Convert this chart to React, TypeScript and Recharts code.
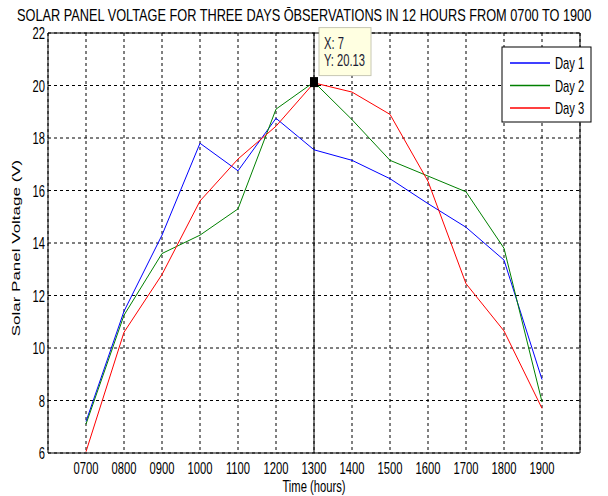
import React from "react";
import {
  LineChart,
  Line,
  XAxis,
  YAxis,
  CartesianGrid,
  ReferenceLine,
  ReferenceDot,
  ReferenceArea,
} from "recharts";

const hours = [7, 8, 9, 10, 11, 12, 13, 14, 15, 16, 17, 18, 19];
const hourLabels = ["0700", "0800", "0900", "1000", "1100", "1200", "1300", "1400", "1500", "1600", "1700", "1800", "1900"];
const day1 = [7.2, 11.4, 14.3, 17.8, 16.75, 18.75, 17.55, 17.15, 16.45, 15.5, 14.6, 13.35, 8.8];
const day2 = [7.1, 11.25, 13.6, 14.3, 15.3, 19.1, 20.13, 18.7, 17.15, 16.55, 15.95, 13.8, 7.95];
const day3 = [6.05, 10.6, 12.8, 15.6, 17.2, 18.45, 20.1, 19.75, 18.9, 16.35, 12.45, 10.65, 7.7];
const yTicks = [6, 8, 10, 12, 14, 16, 18, 20, 22];
const seriesNames = ["Day 1", "Day 2", "Day 3"];
const seriesColors = ["#0000ff", "#008000", "#ff0000"];
const tipX = 13;
const tipIndex = 7;
const tipY = 20.13;
const title = "SOLAR PANEL VOLTAGE FOR THREE DAYS \u014cBSERVATIONS IN 12 HOURS FROM 0700 TO 1900";

const data = hours.map((h, i) => ({ hour: h, d1: day1[i], d2: day2[i], d3: day3[i] }));
const seriesKeys = ["d1", "d2", "d3"];

const FONT = '"Liberation Sans", Arial, sans-serif';
const SX = 0.66;

const XTick = (props: any) => {
  const { x, y, payload } = props;
  const idx = hours.indexOf(payload.value);
  return (
    <g transform={`translate(${x},${y + 21})`}>
      <text x={0} y={0} textAnchor="middle" fontSize={17} fontFamily={FONT} fill="#000" transform={`scale(${SX},1)`}>
        {idx >= 0 ? hourLabels[idx] : ""}
      </text>
    </g>
  );
};

const YTick = (props: any) => {
  const { x, y, payload } = props;
  return (
    <g transform={`translate(${x},${y + 6})`}>
      <text x={0} y={0} textAnchor="end" fontSize={17} fontFamily={FONT} fill="#000" transform={`scale(${SX},1)`}>
        {payload.value}
      </text>
    </g>
  );
};

const TipShape = (props: any) => {
  const { cx, cy } = props;
  return (
    <g>
      <rect x={cx + 5} y={cy - 54.5} width={52} height={48} fill="#ffffe1" stroke="#c8c8b4" strokeWidth={1} />
      <g transform={`translate(${cx + 10},${cy - 33.5})`}>
        <text x={0} y={0} fontSize={16} fontFamily={FONT} fill="#1a1a33" transform={`scale(${SX + 0.04},1)`}>
          {`X: ${tipIndex}`}
        </text>
      </g>
      <g transform={`translate(${cx + 10},${cy - 16.5})`}>
        <text x={0} y={0} fontSize={16} fontFamily={FONT} fill="#1a1a33" transform={`scale(${SX + 0.04},1)`}>
          {`Y: ${tipY}`}
        </text>
      </g>
      <rect x={cx - 4} y={cy - 5} width={8} height={10} fill="#000" />
    </g>
  );
};

export default function App() {
  return (
    <div style={{ position: "absolute", left: 0, top: 0, width: 608, height: 496, background: "#fff" }}>
      <LineChart
        width={608}
        height={496}
        data={data}
        margin={{ top: 33, right: 28, bottom: 0, left: 0 }}
      >
        <CartesianGrid stroke="#000" strokeDasharray="3 3" strokeWidth={1} />
        <XAxis
          dataKey="hour"
          type="number"
          domain={[6, 20]}
          ticks={hours}
          interval={0}
          height={43}
          tickSize={0}
          tickMargin={0}
          axisLine={false}
          tickLine={false}
          tick={<XTick />}
        />
        <YAxis
          type="number"
          domain={[6, 22]}
          ticks={yTicks}
          interval={0}
          width={48}
          tickSize={0}
          tickMargin={3}
          axisLine={false}
          tickLine={false}
          tick={<YTick />}
        />
        <ReferenceArea x1={6} x2={20} y1={6} y2={22} fill="none" stroke="#000" strokeWidth={1} ifOverflow="visible" />
        <ReferenceLine x={tipX} stroke="#000" strokeWidth={1} />
        {seriesKeys.map((k, i) => (
          <Line
            key={k}
            type="linear"
            dataKey={k}
            name={seriesNames[i]}
            stroke={seriesColors[i]}
            strokeWidth={1}
            dot={false}
            activeDot={false}
            isAnimationActive={false}
          />
        ))}
        <ReferenceDot x={tipX} y={tipY} r={5} shape={<TipShape />} ifOverflow="visible" />
      </LineChart>
      <svg width={608} height={496} style={{ position: "absolute", left: 0, top: 0, pointerEvents: "none" }}>
        <g transform={`translate(17,21) scale(0.75,1)`}>
          <text x={0} y={0} fontSize={17} fontFamily={FONT} fill="#000">
            {title}
          </text>
        </g>
        <g transform={`translate(314,492)`}>
          <text x={0} y={0} textAnchor="middle" fontSize={17} fontFamily={FONT} fill="#000" transform={`scale(${SX},1)`}>
            Time (hours)
          </text>
        </g>
        <g transform={`translate(20,248) scale(${SX},1) rotate(-90)`}>
          <text x={0} y={0} textAnchor="middle" fontSize={17} fontFamily={FONT} fill="#000">
            Solar Panel Voltage (V)
          </text>
        </g>
        <rect x={502} y={47} width={89} height={75} fill="#fff" stroke="#000" strokeWidth={1} />
        {seriesNames.map((n, i) => (
          <g key={n}>
            <line x1={510} x2={550} y1={63 + i * 22.5} y2={63 + i * 22.5} stroke={seriesColors[i]} strokeWidth={1.5} />
            <g transform={`translate(555,${69 + i * 22.5})`}>
              <text x={0} y={0} fontSize={17} fontFamily={FONT} fill="#000" transform={`scale(${SX},1)`}>
                {n}
              </text>
            </g>
          </g>
        ))}
      </svg>
    </div>
  );
}
